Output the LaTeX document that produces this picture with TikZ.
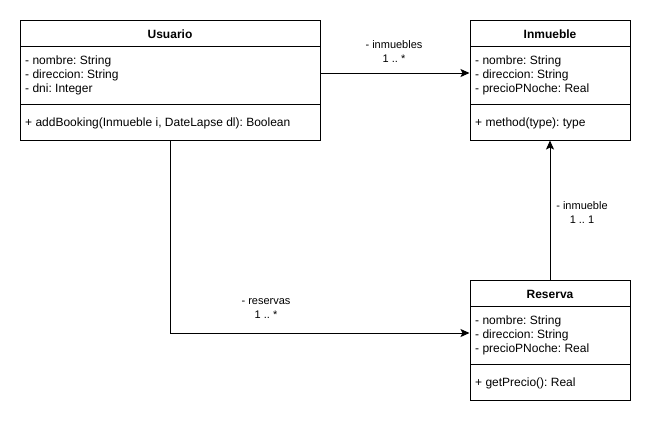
\documentclass[tikz,border=0pt]{standalone}
\usepackage{fontspec}
\setmainfont{Liberation Sans}
\usetikzlibrary{arrows.meta}
\frenchspacing

\tikzset{
  classbox/.style = {draw, line width = 1pt, inner sep = 0pt},
  classtitle/.style = {font = \fontsize{12}{14}\selectfont\bfseries},
  members/.style = {anchor = north west, align = left, inner sep = 0pt, font = \fontsize{12}{14}\selectfont},
  assoc/.style = {line width = 1pt, -{Stealth[length = 9pt, width = 8pt, inset = 2pt]}},
  assoclabel/.style = {align = center, inner sep = 0pt, font = \fontsize{11}{14}\selectfont}
}

\begin{document}
\begin{tikzpicture}[x = 1pt, y = -1pt]
  \useasboundingbox (0, 0) rectangle (651, 424);

  % Usuario
  \node [classbox, minimum width = 300pt, minimum height = 120pt] (usuario) at (170, 80) {};
  \node [classtitle] (usuario-title) at (170, 34) {Usuario};
  \draw [line width = 1pt] (20, 46) -- (320, 46);
  \node [members] (usuario-attrs) at (25, 56) {- nombre: String\\- direccion: String\\- dni: Integer};
  \draw [line width = 1pt] (20, 104) -- (320, 104);
  \node [members] (usuario-ops) at (25, 118) {+ addBooking(Inmueble i, DateLapse dl): Boolean};

  % Inmueble
  \node [classbox, minimum width = 160pt, minimum height = 120pt] (inmueble) at (550, 80) {};
  \node [classtitle] (inmueble-title) at (550, 34) {Inmueble};
  \draw [line width = 1pt] (470, 46) -- (630, 46);
  \node [members] (inmueble-attrs) at (475, 56) {- nombre: String\\- direccion: String\\- precioPNoche: Real};
  \draw [line width = 1pt] (470, 104) -- (630, 104);
  \node [members] (inmueble-ops) at (475, 118) {+ method(type): type};

  % Reserva
  \node [classbox, minimum width = 160pt, minimum height = 120pt] (reserva) at (550, 340) {};
  \node [classtitle] (reserva-title) at (550, 294) {Reserva};
  \draw [line width = 1pt] (470, 306) -- (630, 306);
  \node [members] (reserva-attrs) at (475, 316) {- nombre: String\\- direccion: String\\- precioPNoche: Real};
  \draw [line width = 1pt] (470, 364) -- (630, 364);
  \node [members] (reserva-ops) at (475, 378) {+ getPrecio(): Real};

  % associations
  \draw [assoc] ([yshift = 7pt]usuario.east) -- ([yshift = 7pt]inmueble.west);
  \node [assoclabel] (inmuebles-label) at (394, 52) {- inmuebles\\1 .. *};
  \draw [assoc] (usuario.south) |- ([yshift = 7pt]reserva.west);
  \node [assoclabel] (reservas-label) at (266, 309) {- reservas\\1 .. *};
  \draw [assoc] (reserva.north) -- (inmueble.south);
  \node [assoclabel] (inmueble-label) at (582, 213) {- inmueble\\1 .. 1};
\end{tikzpicture}
\end{document}
